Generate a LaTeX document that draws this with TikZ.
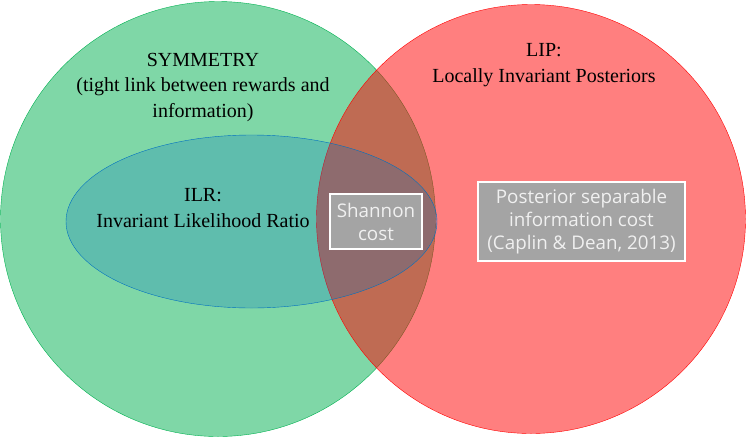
\documentclass[tikz,border=0pt]{standalone}
\usepackage{fontspec}
\setmainfont{Liberation Serif}
\newfontfamily\boxfont{Open Sans}
\usetikzlibrary{calc}

\definecolor{symgreen}{RGB}{0,176,80}
\definecolor{lipred}{RGB}{255,0,0}
\definecolor{ilrblue}{RGB}{0,112,192}
\definecolor{boxgray}{RGB}{164,164,164}

\tikzset{
  settext/.style={align=center, font=\fontsize{20}{25.5}\selectfont, text=black},
  costbox/.style={draw=white, line width=1.6pt, fill=boxgray, text=white!94!black,
    align=center, font=\boxfont\fontsize{18.8}{23}\selectfont, inner sep=0pt}
}

\begin{document}
\begin{tikzpicture}[x=1pt,y=-1pt]
\useasboundingbox (0,0) rectangle (746,437);
\coordinate(G) at (218,219);
\coordinate(R) at (531,219);
\coordinate(E) at (251.5,221.5);
% the two big sets
\draw[symgreen, fill=symgreen, fill opacity=.5] (G) circle (217.5);
\draw[lipred, fill=lipred, fill opacity=.5] (R) circle (214.5);
% ILR inside symmetry
\draw[ilrblue, fill=ilrblue, fill opacity=.25] (E) ellipse (185.5 and 86.5);
% cost boxes
\node[costbox, minimum width=92, minimum height=55] (shannon) at (376,221.5) {Shannon\\cost};
\node[costbox, minimum width=207, minimum height=79] (postsep) at (581.5,221.5)
  {Posterior separable\\information cost\\(Caplin \& Dean, 2013)};
% labels
\node[settext] (sym) at (203,87.5) {SYMMETRY\\(tight link between rewards and\\information)};
\node[settext] (lip) at (544,65) {LIP:\\Locally Invariant Posteriors};
\node[settext] (ilr) at (203,208) {ILR:\\Invariant Likelihood Ratio};
\end{tikzpicture}
\end{document}
